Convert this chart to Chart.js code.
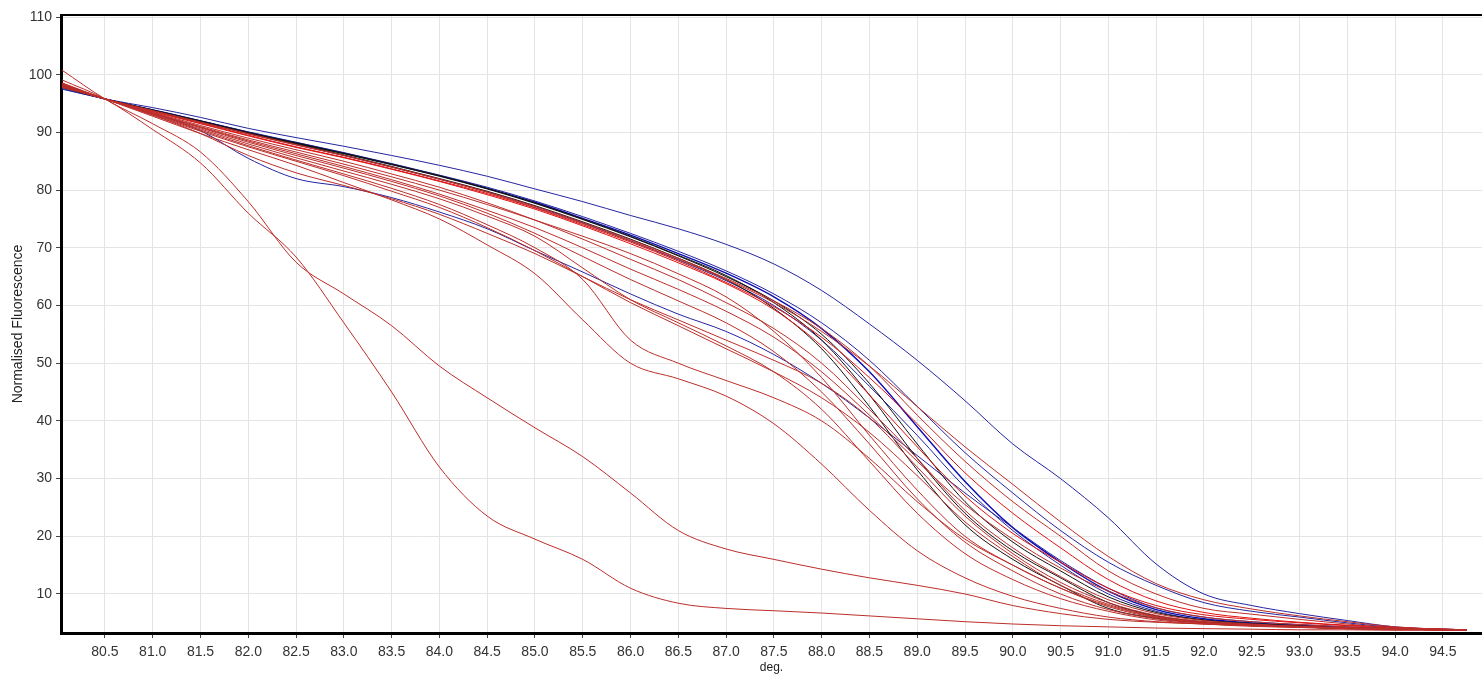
<!DOCTYPE html>
<html>
<head>
<meta charset="utf-8">
<title>Melt curves</title>
<script src="https://cdn.jsdelivr.net/npm/chart.js@4"></script>
<style>
  html, body { margin: 0; padding: 0; background: #fff; }
  #wrap { width: 1482px; height: 679px; }
</style>
</head>
<body>
<div id="wrap"><canvas id="meltChart" width="1482" height="679"></canvas></div>
<script>
// Temperatures (deg.) where each curve is sampled
const temps = [80.05, 80.5, 81.0, 81.5, 82.0, 82.5, 83.0, 83.5, 84.0, 84.5, 85.0, 85.5, 86.0, 86.5, 87.0, 87.5, 88.0, 88.5, 89.0, 89.5, 90.0, 90.5, 91.0, 91.5, 92.0, 92.5, 93.0, 93.5, 94.0, 94.5, 94.75];

// Tick labels
const xTicks = [80.5, 81.0, 81.5, 82.0, 82.5, 83.0, 83.5, 84.0, 84.5, 85.0, 85.5, 86.0, 86.5, 87.0, 87.5, 88.0, 88.5, 89.0, 89.5, 90.0, 90.5, 91.0, 91.5, 92.0, 92.5, 93.0, 93.5, 94.0, 94.5];
const yTicks = [10, 20, 30, 40, 50, 60, 70, 80, 90, 100, 110];

// Blue samples
const blue1 = [97.6, 95.8, 94.3, 92.6, 90.7, 89.1, 87.6, 86.0, 84.3, 82.4, 80.2, 78.0, 75.6, 73.3, 70.6, 67.2, 62.6, 56.8, 50.5, 43.5, 36.0, 30.0, 23.2, 15.2, 10.0, 8.0, 6.6, 5.4, 4.3, 3.9, 3.8];
const blue2 = [98.0, 95.8, 93.9, 92.0, 90.1, 88.3, 86.5, 84.6, 82.6, 80.5, 78.1, 75.4, 72.5, 69.4, 66.0, 62.0, 57.0, 50.5, 42.5, 34.5, 27.5, 21.0, 15.5, 11.5, 8.5, 7.0, 6.0, 5.0, 4.2, 3.9, 3.8];
const blue3 = [98.0, 95.8, 93.3, 90.3, 85.5, 82.0, 80.6, 78.7, 76.2, 73.3, 69.5, 65.8, 62.0, 58.5, 55.5, 51.5, 46.5, 40.5, 34.0, 27.5, 21.5, 15.8, 11.0, 7.6, 6.0, 5.2, 4.7, 4.3, 4.0, 3.8, 3.7];
const blue4 = [98.0, 95.8, 93.9, 92.0, 90.0, 88.2, 86.4, 84.5, 82.5, 80.3, 77.9, 75.1, 72.2, 69.0, 65.6, 61.5, 56.0, 48.5, 39.0, 29.5, 21.5, 15.5, 10.5, 7.3, 5.7, 5.0, 4.6, 4.2, 4.0, 3.8, 3.7];
const blue5 = [97.5, 95.8, 93.8, 91.8, 89.8, 87.9, 86.0, 84.0, 81.9, 79.7, 77.2, 74.3, 71.2, 67.9, 64.3, 60.0, 54.0, 46.0, 37.5, 28.5, 21.0, 15.0, 10.0, 7.0, 5.5, 4.9, 4.5, 4.2, 4.0, 3.8, 3.7];

// Black samples
const black1 = [97.8, 95.8, 93.9, 92.0, 90.0, 88.2, 86.4, 84.5, 82.5, 80.3, 77.8, 75.0, 72.0, 68.7, 65.2, 60.5, 54.0, 44.5, 33.5, 24.0, 17.5, 12.8, 8.5, 6.2, 5.2, 4.7, 4.3, 4.0, 3.9, 3.8, 3.7];
const black2 = [98.0, 95.8, 93.8, 91.8, 89.8, 88.0, 86.1, 84.1, 82.0, 79.8, 77.3, 74.5, 71.5, 68.2, 64.5, 59.5, 52.5, 42.5, 31.5, 22.0, 16.0, 11.5, 7.5, 5.8, 5.0, 4.6, 4.3, 4.0, 3.9, 3.8, 3.7];
const black3 = [98.2, 95.8, 93.8, 91.9, 89.9, 88.1, 86.3, 84.4, 82.4, 80.2, 77.7, 74.9, 71.9, 68.6, 65.0, 60.8, 55.0, 46.5, 36.0, 26.0, 19.0, 14.0, 9.5, 6.8, 5.5, 4.9, 4.5, 4.1, 3.9, 3.8, 3.7];

// Red samples
const redB1 = [98.5, 95.8, 93.6, 91.5, 89.4, 87.4, 85.6, 83.6, 81.5, 79.2, 76.7, 73.8, 70.7, 67.4, 63.8, 59.3, 53.0, 44.5, 35.5, 27.0, 20.5, 15.5, 11.0, 8.0, 6.4, 5.6, 5.0, 4.5, 4.1, 3.9, 3.8];
const redB2 = [98.0, 95.8, 93.7, 91.6, 89.5, 87.5, 85.7, 83.7, 81.6, 79.4, 76.9, 74.0, 71.0, 67.7, 64.0, 59.8, 54.5, 47.5, 39.5, 31.0, 24.0, 18.0, 12.5, 8.8, 6.8, 5.8, 5.1, 4.6, 4.2, 3.9, 3.8];
const redU = [98.3, 95.8, 93.7, 91.7, 89.7, 87.8, 86.0, 84.0, 81.9, 79.7, 77.2, 74.4, 71.4, 68.2, 64.7, 60.8, 56.0, 49.5, 41.0, 33.0, 26.0, 20.0, 14.0, 10.0, 7.5, 6.5, 5.6, 4.8, 4.1, 3.9, 3.8];
const red1 = [98.0, 95.8, 93.5, 91.2, 89.0, 87.0, 85.0, 82.8, 80.5, 77.8, 74.8, 71.5, 68.0, 64.5, 60.5, 56.0, 50.0, 42.0, 33.5, 24.5, 18.0, 13.0, 9.0, 6.6, 5.4, 4.8, 4.4, 4.1, 3.9, 3.8, 3.7];
const red2 = [98.4, 95.8, 93.4, 91.0, 88.7, 86.6, 84.5, 82.3, 80.0, 77.5, 74.8, 72.0, 69.0, 65.5, 61.5, 55.5, 47.5, 37.5, 28.0, 20.0, 15.0, 11.0, 7.8, 5.9, 5.0, 4.6, 4.3, 4.0, 3.9, 3.8, 3.7];
const red3 = [98.0, 95.8, 93.3, 90.8, 88.3, 86.0, 83.8, 81.5, 79.0, 76.0, 72.5, 68.5, 64.5, 60.8, 57.0, 52.0, 45.0, 36.0, 26.5, 19.0, 14.0, 10.0, 7.3, 5.7, 4.9, 4.5, 4.2, 4.0, 3.9, 3.8, 3.7];
const red4 = [98.6, 95.8, 93.2, 90.6, 88.0, 85.6, 83.3, 81.0, 78.5, 75.5, 72.0, 66.5, 61.0, 57.0, 53.0, 48.5, 42.0, 33.0, 24.0, 17.0, 12.5, 9.2, 7.0, 5.5, 4.8, 4.4, 4.2, 4.0, 3.9, 3.8, 3.7];
const red5 = [98.2, 95.8, 93.1, 90.4, 87.7, 85.2, 82.8, 80.3, 77.5, 74.0, 70.0, 64.5, 54.0, 50.0, 47.0, 44.0, 40.0, 33.5, 26.0, 19.5, 15.0, 11.0, 8.0, 6.0, 5.0, 4.6, 4.3, 4.0, 3.9, 3.8, 3.7];
const red6 = [98.5, 95.8, 92.8, 89.8, 87.0, 84.3, 81.3, 78.3, 75.0, 70.5, 65.5, 57.5, 50.0, 47.3, 44.3, 39.5, 32.5, 24.5, 17.5, 12.8, 9.6, 7.5, 6.0, 5.2, 4.8, 4.5, 4.3, 4.1, 3.9, 3.8, 3.7];
const red7 = [98.0, 95.8, 93.0, 90.2, 87.5, 85.0, 82.5, 79.8, 77.0, 73.5, 69.5, 65.0, 60.5, 56.5, 52.5, 48.5, 44.0, 38.0, 30.5, 22.5, 16.5, 11.5, 8.2, 6.1, 5.1, 4.6, 4.3, 4.1, 3.9, 3.8, 3.7];
const red8 = [97.8, 95.8, 93.3, 90.9, 88.5, 86.3, 84.1, 81.8, 79.3, 76.5, 73.5, 70.0, 66.3, 62.8, 59.0, 54.5, 48.5, 41.0, 33.0, 25.5, 19.5, 14.5, 10.5, 7.6, 6.0, 5.2, 4.7, 4.3, 4.0, 3.8, 3.7];
const red9 = [98.0, 95.8, 93.0, 89.8, 86.0, 83.0, 80.8, 78.5, 75.8, 72.5, 69.0, 65.0, 61.0, 57.5, 54.0, 50.5, 46.5, 40.5, 32.0, 23.5, 17.0, 12.0, 8.5, 6.3, 5.2, 4.7, 4.4, 4.1, 3.9, 3.8, 3.7];
const red10 = [98.0, 95.8, 93.8, 91.8, 89.8, 87.9, 86.0, 84.0, 81.9, 79.6, 77.0, 74.2, 71.2, 68.0, 64.5, 60.5, 55.5, 49.5, 42.5, 35.5, 29.0, 22.5, 16.5, 11.8, 9.0, 7.4, 6.2, 5.2, 4.3, 3.9, 3.8];
const redA = [100.8, 95.8, 91.5, 86.6, 78.0, 67.5, 62.0, 56.5, 49.5, 44.0, 38.8, 33.8, 27.5, 21.0, 17.8, 16.0, 14.3, 12.8, 11.5, 10.0, 8.0, 6.6, 5.6, 5.1, 4.8, 4.5, 4.3, 4.1, 3.9, 3.8, 3.7];
const redB = [99.1, 95.8, 90.5, 84.7, 76.0, 68.4, 57.0, 45.0, 32.0, 23.5, 19.5, 16.0, 11.0, 8.4, 7.5, 7.1, 6.7, 6.2, 5.7, 5.2, 4.8, 4.5, 4.3, 4.1, 4.0, 3.9, 3.8, 3.8, 3.7, 3.7, 3.7];

const BLUE = "#2525a0";
const BLUE_BRIGHT = "#0c0cb4";
const BLACK = "#111111";
const RED = "#bb2e2a";
const RED_BRIGHT = "#e01212";

// Build one line dataset from a value list
function line(values, color, width) {
  return {
    data: values.map((v, i) => ({ x: temps[i], y: v })),
    borderColor: color,
    borderWidth: width || 1,
    pointRadius: 0,
    fill: false,
    cubicInterpolationMode: "monotone",
  };
}

// Reds first, blues and blacks on top like the source plot
const datasets = [
  line(redA, RED),
  line(redB, RED),
  line(red6, RED),
  line(red5, RED),
  line(red4, RED),
  line(red7, RED),
  line(red9, RED),
  line(red3, RED),
  line(red8, RED),
  line(red2, RED),
  line(red1, RED),
  line(red10, RED),
  line(redU, RED),
  line(redB1, RED_BRIGHT),
  line(redB2, RED_BRIGHT),
  line(black1, BLACK),
  line(black2, BLACK),
  line(black3, BLACK),
  line(blue3, BLUE),
  line(blue1, BLUE),
  line(blue2, BLUE),
  line(blue5, BLUE),
  line(blue4, BLUE_BRIGHT, 1.4),
];

// Thin black frame line along the top of the plot
const topBorder = {
  id: "topBorder",
  afterDraw(chart) {
    const { ctx, chartArea } = chart;
    ctx.save();
    ctx.strokeStyle = "#000";
    ctx.lineWidth = 2;
    ctx.beginPath();
    ctx.moveTo(chartArea.left, chartArea.top);
    ctx.lineTo(chartArea.right, chartArea.top);
    ctx.stroke();
    ctx.restore();
  },
};

const ctx = document.getElementById("meltChart").getContext("2d");
const meltChart = new Chart(ctx, {
  type: "line",
  data: { datasets: datasets },
  plugins: [topBorder],
  options: {
    responsive: false,
    animation: false,
    layout: { padding: { top: 15, right: 0, left: 0, bottom: 0 } },
    plugins: {
      legend: { display: false },
      tooltip: { enabled: false },
    },
    scales: {
      x: {
        type: "linear",
        bounds: "data",
        min: 80.04,
        max: 94.91,
        afterBuildTicks: (scale) => {
          scale.ticks = xTicks.map((v) => ({ value: v }));
        },
        afterFit: (scale) => {
          scale.height = 46;
        },
        ticks: {
          autoSkip: false,
          maxRotation: 0,
          padding: 6,
          color: "#333",
          font: { family: "Liberation Sans, Arial, sans-serif", size: 14 },
          callback: (v) => Number(v).toFixed(1),
        },
        grid: { color: "#e4e4e4", lineWidth: 1, tickLength: 5, tickColor: "#444" },
        border: { color: "#000", width: 3 },
        title: {
          display: true,
          text: "deg.",
          color: "#222",
          padding: { top: 0, bottom: 4 },
          font: { family: "Liberation Sans, Arial, sans-serif", size: 12 },
        },
      },
      y: {
        type: "linear",
        bounds: "data",
        min: 3.24,
        max: 110.35,
        afterBuildTicks: (scale) => {
          scale.ticks = yTicks.map((v) => ({ value: v }));
        },
        afterFit: (scale) => {
          scale.width = 61;
        },
        ticks: {
          padding: 4,
          color: "#333",
          font: { family: "Liberation Sans, Arial, sans-serif", size: 14 },
          callback: (v) => String(v),
        },
        grid: { color: "#e4e4e4", lineWidth: 1, tickLength: 5, tickColor: "#444" },
        border: { color: "#000", width: 3 },
        title: {
          display: true,
          text: "Normalised Fluorescence",
          color: "#222",
          padding: { top: 10, bottom: 0 },
          font: { family: "Liberation Sans, Arial, sans-serif", size: 14 },
        },
      },
    },
  },
});
</script>
</body>
</html>
